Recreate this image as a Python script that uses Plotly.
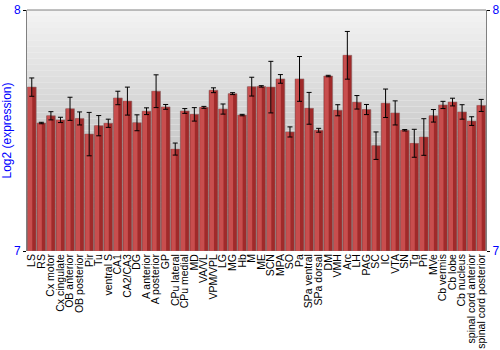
import plotly.graph_objects as go

categories = ["LS", "RS", "Cx motor", "Cx cingulate", "OB anterior", "OB posterior", "Pir", "Tu",
              "ventral S", "CA1", "CA2/CA3", "DG", "A anterior", "A posterior", "GP", "CPu lateral",
              "CPu medial", "MD", "VA/VL", "VPM/VPL", "LG", "MG", "Hb", "M", "ME", "SCN", "MPA", "SO",
              "Pa", "SPa ventral", "SPa dorsal", "DM", "VMH", "Arc", "LH", "PAG", "SC", "IC", "VTA",
              "SN", "Tg", "Pn", "MVe", "Cb vermis", "Cb lobe", "Cb nucleus", "spinal cord anterior",
              "spinal cord posterior"]
values = [7.680, 7.531, 7.561, 7.544, 7.590, 7.550, 7.485, 7.520,
          7.530, 7.635, 7.622, 7.532, 7.580, 7.663, 7.598, 7.423,
          7.581, 7.567, 7.596, 7.667, 7.589, 7.653, 7.564, 7.682,
          7.683, 7.680, 7.714, 7.494, 7.714, 7.592, 7.501, 7.726,
          7.584, 7.812, 7.617, 7.587, 7.437, 7.613, 7.573, 7.501,
          7.447, 7.473, 7.561, 7.606, 7.618, 7.577, 7.539, 7.604]
errors = [0.038, 0.003, 0.017, 0.011, 0.048, 0.027, 0.090, 0.042,
          0.017, 0.028, 0.058, 0.033, 0.014, 0.068, 0.010, 0.025,
          0.010, 0.028, 0.004, 0.010, 0.021, 0.004, 0.003, 0.039,
          0.003, 0.107, 0.018, 0.021, 0.093, 0.066, 0.008, 0.003,
          0.023, 0.099, 0.028, 0.021, 0.057, 0.059, 0.050, 0.003,
          0.058, 0.076, 0.026, 0.015, 0.016, 0.030, 0.018, 0.025]
y_range = [7, 8]
y_ticks = [7, 8]

fig = go.Figure()

# gradient background as bands
n_bands = 40
top = (243, 243, 243)
bot = (168, 168, 168)
for i in range(n_bands):
    t = i / (n_bands - 1)
    c = tuple(int(round(top[k] + (bot[k] - top[k]) * t)) for k in range(3))
    fig.add_shape(type="rect", xref="paper", yref="paper",
                  x0=0, x1=1, y0=1 - (i + 1) / n_bands, y1=1 - i / n_bands,
                  fillcolor="rgb(%d,%d,%d)" % c, line_width=0, layer="below")

base = [y_range[0]] * len(values)
heights = [v - y_range[0] for v in values]

fig.add_trace(go.Bar(x=categories, y=heights, base=base, width=0.92, offset=-0.46,
                     marker=dict(color="#a02a2a", line=dict(color="#8a6a6a", width=0.6)),
                     hoverinfo="skip", showlegend=False))
fig.add_trace(go.Bar(x=categories, y=heights, base=base, width=0.45, offset=-0.40,
                     marker=dict(color="#c84e4e", line=dict(width=0)),
                     hoverinfo="skip", showlegend=False))
fig.add_trace(go.Scatter(x=categories, y=values, mode="markers",
                         marker=dict(size=1, color="rgba(0,0,0,0)"),
                         error_y=dict(type="data", array=errors, color="black",
                                      thickness=1, width=2.5),
                         hoverinfo="skip", showlegend=False))
fig.add_trace(go.Scatter(x=[categories[0]], y=[y_range[0]], yaxis="y2", mode="markers",
                         marker=dict(size=1, color="rgba(0,0,0,0)"), showlegend=False,
                         hoverinfo="skip"))

fig.update_layout(
    width=500, height=350,
    margin=dict(l=27, r=14, t=10, b=99, autoexpand=False),
    paper_bgcolor="white", plot_bgcolor="rgba(0,0,0,0)",
    barmode="overlay", bargap=0.04,
    font=dict(family="Liberation Sans, Arial, sans-serif", size=11, color="black"),
    xaxis=dict(type="category", tickangle=-90, showgrid=False, ticks="",
               tickmode="array", tickvals=categories, ticktext=categories,
               tickfont=dict(size=10.5, color="black"), showline=False, automargin=False,
               range=[-0.5, len(categories) - 0.5]),
    yaxis=dict(range=y_range, tickvals=y_ticks, showgrid=False, zeroline=False,
               tickfont=dict(size=12, color="blue"), ticks="outside", ticklen=3,
               tickcolor="black", showline=True, linecolor="#808080", linewidth=1,
               automargin=False,
               title=dict(text="Log2 (expression)", font=dict(size=12, color="blue"), standoff=2)),
    yaxis2=dict(range=y_range, tickvals=y_ticks, overlaying="y", side="right",
                showgrid=False, zeroline=False, tickfont=dict(size=12, color="blue"),
                ticks="outside", ticklen=3, tickcolor="black", showline=True,
                linecolor="#808080", linewidth=1, automargin=False),
)
fig.add_shape(type="line", xref="paper", yref="paper", x0=0, x1=1, y0=1, y1=1,
              line=dict(color="#808080", width=1))

fig.write_html("out.html")
